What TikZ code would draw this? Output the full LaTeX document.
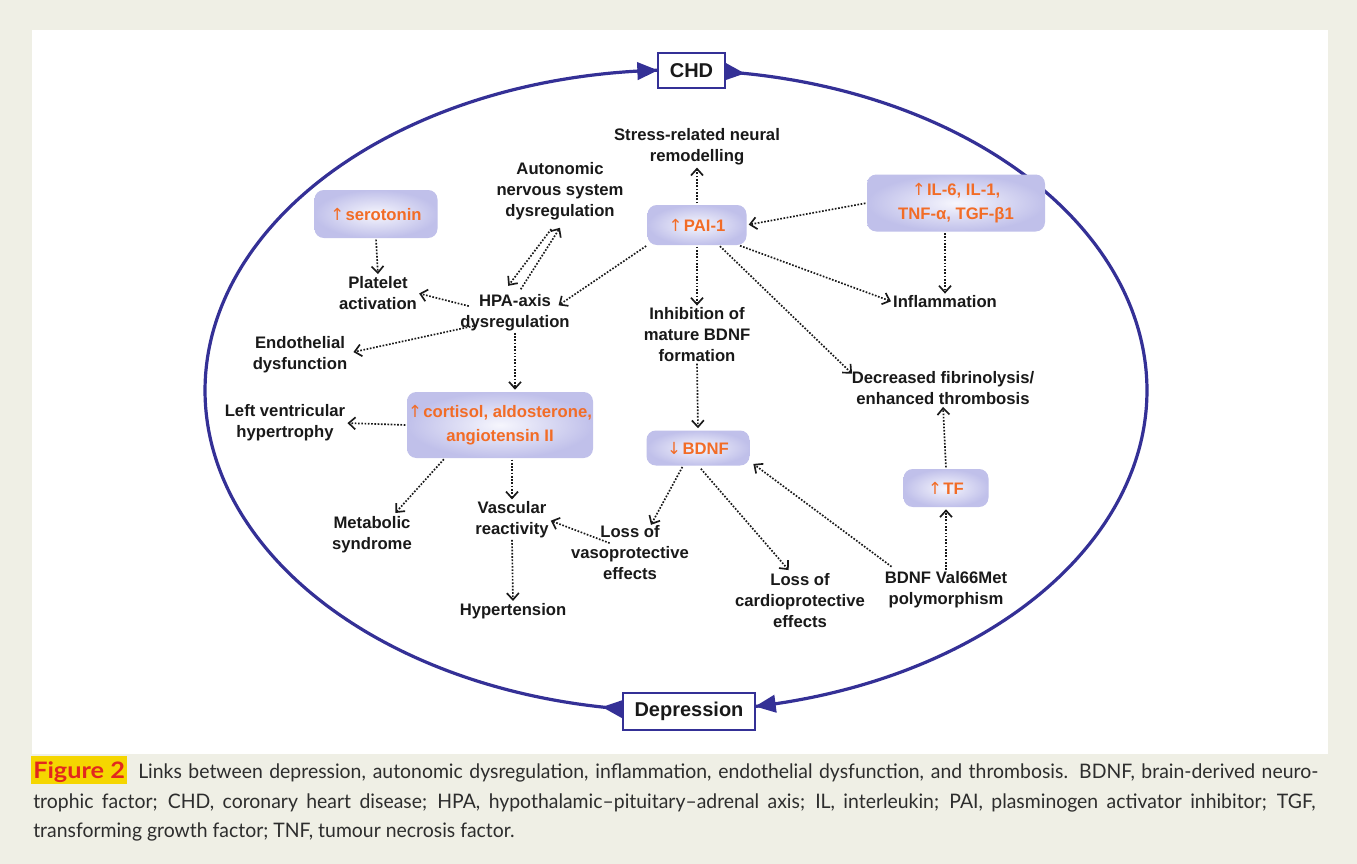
\documentclass[tikz,border=0pt]{standalone}
\usepackage{fontspec}
\setmainfont{Liberation Sans}
\newfontfamily\capfont[FakeStretch=0.97]{Lato}
\newfontfamily\arrf{DejaVu Sans}
\usetikzlibrary{arrows.meta,calc}
\definecolor{bgbeige}{RGB}{239,239,229}
\definecolor{ellblue}{RGB}{52,48,150}
\definecolor{boxout}{RGB}{192,192,234}
\definecolor{boxin}{RGB}{246,246,253}
\definecolor{orng}{RGB}{242,108,38}
\definecolor{figred}{RGB}{226,40,30}
\definecolor{figyel}{RGB}{245,214,0}
\definecolor{captxt}{RGB}{45,45,45}
\definecolor{txt}{RGB}{25,25,25}
\tikzset{bigtri/.tip={Triangle[length=15.5pt,width=13pt]}}
\newcommand{\up}{{\arrf\mdseries ↑}\kern1pt}
\newcommand{\dn}{{\arrf\mdseries ↓}\kern1pt}
\begin{document}
\begin{tikzpicture}[x=0.75pt,y=-0.75pt,
  lab/.style={font=\bfseries\fontsize{12.5}{15.75}\selectfont, align=center, inner sep=0pt, text=txt},
  shbox/.style={rounded corners=7pt, inner color=boxin, outer color=boxout, text=orng, font=\bfseries\fontsize{12.5}{18}\selectfont, align=center, inner sep=0pt},
  dar/.style={draw=txt, line width=1.25pt, dash pattern=on 1.25pt off 1.2pt, -{Straight Barb[length=5pt,width=9pt]}, shorten >=1.5pt, shorten <=1pt},
  ell/.style={draw=ellblue, line width=2.4pt},
  endbox/.style={draw=ellblue, line width=1.5pt, fill=white, font=\bfseries\fontsize{15}{18}\selectfont, inner sep=0pt, text=txt},
  capf/.style={font=\capfont\fontsize{15}{18}\selectfont, text=captxt, inner sep=0pt, anchor=base west}
]
\useasboundingbox (0,0) rectangle (1357,864);
\fill[bgbeige] (0,0) rectangle (1357,864);
\fill[white] (32,30) rectangle (1328,754);

% ellipse arcs
\draw[ell] plot[domain=96.46:267.81, samples=120, smooth] ({676+471*cos(\x)},{390.5+320.5*sin(\x)});
\draw[ell] plot[domain=275.97:440.34, samples=120, smooth] ({676+471*cos(\x)},{390.5+320.5*sin(\x)});
\coordinate (la0) at ({676+471*cos(96.46)},{390.5+320.5*sin(96.46)});
\coordinate (la1) at ({676+471*cos(99.04)},{390.5+320.5*sin(99.04)});
\coordinate (lb0) at ({676+471*cos(265.25)},{390.5+320.5*sin(265.25)});
\coordinate (lb1) at ({676+471*cos(267.81)},{390.5+320.5*sin(267.81)});
\coordinate (ra0) at ({676+471*cos(275.97)},{390.5+320.5*sin(275.97)});
\coordinate (ra1) at ({676+471*cos(278.42)},{390.5+320.5*sin(278.42)});
\coordinate (rb0) at ({676+471*cos(77.74)},{390.5+320.5*sin(77.74)});
\coordinate (rb1) at ({676+471*cos(80.34)},{390.5+320.5*sin(80.34)});
\draw[ell, -{bigtri}] (la0) -- (la1);
\draw[ell, -{bigtri}] (lb0) -- (lb1);
\draw[ell, -{bigtri}] (ra0) -- (ra1);
\draw[ell, -{bigtri}] (rb0) -- (rb1);

\node[endbox, minimum width=50.25pt, minimum height=26.25pt] (chd) at (691.5,70.5) {CHD};
\node[endbox, minimum width=99pt, minimum height=27.75pt] (dep) at (689,711.5) {Depression};

% shaded boxes
\node[shbox, minimum width=92.25pt, minimum height=36pt] (sero) at (376,214) {\up serotonin};
\node[shbox, minimum width=74.25pt, minimum height=30pt] (pai) at (697,225) {\up PAI-1};
\node[shbox, minimum width=133.5pt, minimum height=42.75pt] (il) at (956,203) {\up IL-6, IL-1,\\TNF-α, TGF-β1};
\node[shbox, minimum width=139.5pt, minimum height=49.5pt] (cort) at (500,425) {\up cortisol, aldosterone,\\angiotensin II};
\node[shbox, minimum width=77.25pt, minimum height=26.25pt] (bdnf) at (698,448) {\dn BDNF};
\node[shbox, minimum width=63.75pt, minimum height=28.5pt] (tf) at (946,488) {\up TF};

% text nodes
\node[lab] (stress) at (697,147) {Stress-related neural\\remodelling};
\node[lab] (auto) at (560,191) {Autonomic\\nervous system\\dysregulation};
\node[lab] (plat) at (378,293) {Platelet\\activation};
\node[lab] (hpa) at (515,313) {HPA-axis\\dysregulation};
\node[lab] (endo) at (300,355) {Endothelial\\dysfunction};
\node[lab] (inhib) at (697,335) {Inhibition of\\mature BDNF\\formation};
\node[lab] (infl) at (945,302) {Inflammation};
\node[lab] (decr) at (943,388) {Decreased fibrinolysis/\\enhanced thrombosis};
\node[lab] (lvh) at (285,423) {Left ventricular\\hypertrophy};
\node[lab] (meta) at (372,535) {Metabolic\\syndrome};
\node[lab] (vasc) at (512,520) {Vascular\\reactivity};
\node[lab] (vaso) at (630,553) {Loss of\\vasoprotective\\effects};
\node[lab] (cardio) at (800,601) {Loss of\\cardioprotective\\effects};
\node[lab] (val) at (946,590) {BDNF Val66Met\\polymorphism};
\node[lab] (hyp) at (513,611) {Hypertension};

% connectors
\draw[dar] (pai.north) -- (stress.south);
\draw[dar] (il.west) -- (pai.east);
\draw[dar] (pai.south west) -- ($(hpa.north east)+(-13,12)$);
\draw[dar] (pai.south) -- (inhib.north);
\draw[dar] ($(pai.south east)+(-8,0)$) -- (infl.west);
\draw[dar] ($(pai.south)+(22,0)$) -- ($(decr.north west)+(2,4)$);
\draw[dar] (il.south -| infl.north) -- (infl.north);
\draw[dar] (sero.south) -- (plat.north);
\draw[dar] ($(hpa.north west)+(10,12)$) -- (plat.east);
\draw[dar] ($(hpa.west)+(18,12)$) -- ($(endo.north east)+(4,16)$);
\draw[dar] ($(auto.south)+(-8,8)$) -- ($(hpa.north)+(-8,-7)$);
\draw[dar] ($(hpa.north)+(5,-4)$) -- ($(auto.south)+(1,6)$);
\draw[dar] (hpa.south) -- (hpa.south |- cort.north);
\draw[dar] (cort.west) -- (lvh.east);
\draw[dar] ($(cort.south west)+(38,0)$) -- ($(meta.north)+(22,-2)$);
\draw[dar] (vasc.north |- cort.south) -- (vasc.north);
\draw[dar] (vasc.south) -- (hyp.north);
\draw[dar] ($(vaso.north west)+(40,18)$) -- (vasc.east);
\draw[dar] ($(bdnf.south)+(-15,0)$) -- ($(vaso.north)+(20,1)$);
\draw[dar] ($(bdnf.south)+(2,2)$) -- ($(cardio.north)+(-10,-2)$);
\draw[dar] ($(val.north west)+(8,-4)$) -- ($(bdnf.south east)+(2,-3)$);
\draw[dar] (val.north) -- (tf.south);
\draw[dar] (tf.north) -- (decr.south);
\draw[dar] (inhib.south) -- (bdnf.north);

% caption
\node[anchor=base west, inner xsep=1.5pt, inner ysep=0pt, fill=figyel, text height=16.5pt, text depth=4.5pt, text=figred, font=\capfont\bfseries\fontsize{17}{20}\selectfont] (figlab) at (31,778) {\scalebox{1.15}[1]{Figure 2}};
\node[capf] (cap1) at (138,778) {\makebox[885pt][s]{Links between depression, autonomic dysregulation, inflammation, endothelial dysfunction, and thrombosis. BDNF, brain-derived neuro-}};
\node[capf] (cap2) at (33,808.5) {\makebox[961.5pt][s]{trophic factor; CHD, coronary heart disease; HPA, hypothalamic–pituitary–adrenal axis; IL, interleukin; PAI, plasminogen activator inhibitor; TGF,}};
\node[capf] (cap3) at (33,837) {transforming growth factor; TNF, tumour necrosis factor.};
\end{tikzpicture}
\end{document}
